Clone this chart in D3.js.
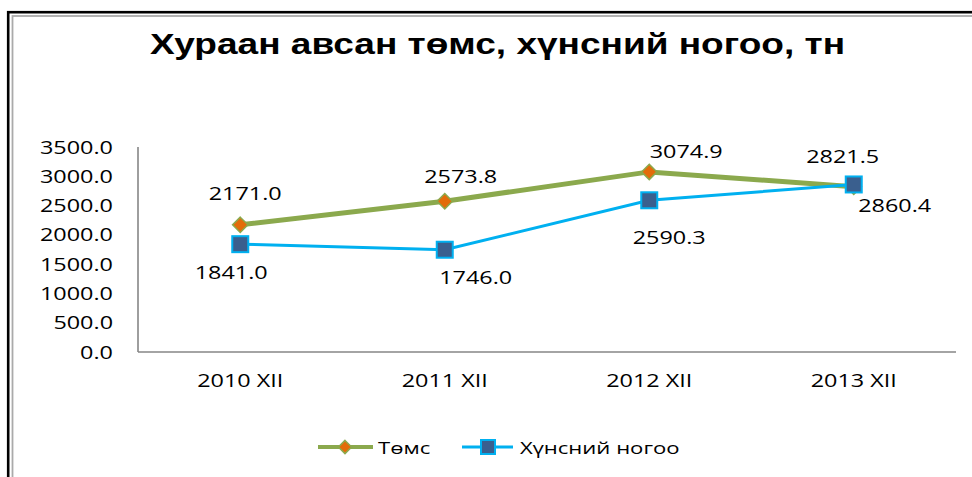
<!DOCTYPE html>
<html>
<head>
<meta charset="utf-8">
<script src="https://cdn.jsdelivr.net/npm/d3@7"></script>
<style>
  body { margin: 0; background: #fff; }
  svg { display: block; }
</style>
</head>
<body>
<svg id="chart" width="972" height="477"></svg>
<script>
const categories = ['2010 XII', '2011 XII', '2012 XII', '2013 XII'];
const potato = [2171.0, 2573.8, 3074.9, 2821.5];
const vegetables = [1841.0, 1746.0, 2590.3, 2860.4];
const yTicks = [0, 500, 1000, 1500, 2000, 2500, 3000, 3500];
const seriesNames = ['Төмс', 'Хүнсний ногоо'];
const title = 'Хураан авсан төмс, хүнсний ногоо, тн';

// hand placed label offsets, like the original sheet
const potatoLabelOff = [[5, -31], [16, -25], [37, -20], [-11, -30]];
const vegLabelOff = [[-9, 28], [31, 28], [20, 37], [41, 21]];

const svg = d3.select('#chart');
const green = '#8ba94d', orange = '#e36c0a', blue = '#00b0f0', navy = '#3a5f8e';
const font = "'Open Sans', sans-serif";
const sx = 1.3;

// frame
svg.append('rect').attr('x', 8.2).attr('y', 12.2).attr('width', 1000).attr('height', 500)
  .attr('fill', 'none').attr('stroke', '#000').attr('stroke-width', 2.6);
svg.append('rect').attr('x', 12.5).attr('y', 16).attr('width', 1000).attr('height', 500)
  .attr('fill', 'none').attr('stroke', '#aaa').attr('stroke-width', 1.8);

svg.append('text')
  .attr('x', 150).attr('y', 54)
  .attr('textLength', 695).attr('lengthAdjust', 'spacingAndGlyphs')
  .attr('font-family', "'Liberation Sans Narrow', 'Liberation Sans', Arial, sans-serif")
  .attr('font-weight', 'bold').attr('font-size', 30)
  .text(title);

const x = d3.scalePoint().domain(categories).range([138, 956]).padding(0.5);
const y = d3.scaleLinear().domain([0, 3500]).range([352, 147]);

function label(g, px, py, txt, anchor, size) {
  return g.append('text')
    .attr('transform', `translate(${px},${py}) scale(${sx},1)`)
    .attr('text-anchor', anchor)
    .attr('font-family', font).attr('font-size', size || 18)
    .attr('fill', '#000')
    .text(txt);
}

// axes
const axisG = svg.append('g');
axisG.append('line').attr('x1', 138).attr('x2', 138).attr('y1', y(3500)).attr('y2', y(0))
  .attr('stroke', '#868686').attr('stroke-width', 1.6);
axisG.append('line').attr('x1', 138).attr('x2', 956).attr('y1', y(0)).attr('y2', y(0))
  .attr('stroke', '#868686').attr('stroke-width', 1.6);

yTicks.forEach(t => label(axisG, 113, y(t) + 6.5, d3.format('.1f')(t), 'end'));
categories.forEach(c => label(axisG, x(c), 387, c, 'middle'));

// lines
const line = d3.line().x((d, i) => x(categories[i])).y(d => y(d));
svg.append('path').datum(potato).attr('d', line)
  .attr('fill', 'none').attr('stroke', green).attr('stroke-width', 5);
svg.append('path').datum(vegetables).attr('d', line)
  .attr('fill', 'none').attr('stroke', blue).attr('stroke-width', 3);

const diamond = d3.symbol().type(d3.symbolDiamond2).size(150);
svg.append('g').selectAll('path').data(potato).enter().append('path')
  .attr('d', diamond)
  .attr('transform', (d, i) => `translate(${x(categories[i])},${y(d)})`)
  .attr('fill', orange).attr('stroke', green).attr('stroke-width', 1.5);

svg.append('g').selectAll('rect').data(vegetables).enter().append('rect')
  .attr('x', (d, i) => x(categories[i]) - 8).attr('y', d => y(d) - 8)
  .attr('width', 16).attr('height', 16)
  .attr('fill', navy).attr('stroke', blue).attr('stroke-width', 2);

// data labels
const lab = svg.append('g');
potato.forEach((v, i) => label(lab, x(categories[i]) + potatoLabelOff[i][0],
  y(v) + potatoLabelOff[i][1] + 6.5, d3.format('.1f')(v), 'middle'));
vegetables.forEach((v, i) => label(lab, x(categories[i]) + vegLabelOff[i][0],
  y(v) + vegLabelOff[i][1] + 6.5, d3.format('.1f')(v), 'middle'));

// legend
const leg = svg.append('g');
leg.append('line').attr('x1', 318).attr('x2', 373).attr('y1', 447).attr('y2', 447)
  .attr('stroke', green).attr('stroke-width', 4);
leg.append('path').attr('d', d3.symbol().type(d3.symbolDiamond2).size(110))
  .attr('transform', 'translate(345,447)')
  .attr('fill', orange).attr('stroke', green).attr('stroke-width', 1.5);
label(leg, 378, 454, seriesNames[0], 'start', 17);

leg.append('line').attr('x1', 462).attr('x2', 513).attr('y1', 447).attr('y2', 447)
  .attr('stroke', blue).attr('stroke-width', 3);
leg.append('rect').attr('x', 481).attr('y', 440).attr('width', 14).attr('height', 14)
  .attr('fill', navy).attr('stroke', blue).attr('stroke-width', 2);
label(leg, 520, 454, seriesNames[1], 'start', 17);
</script>
</body>
</html>
